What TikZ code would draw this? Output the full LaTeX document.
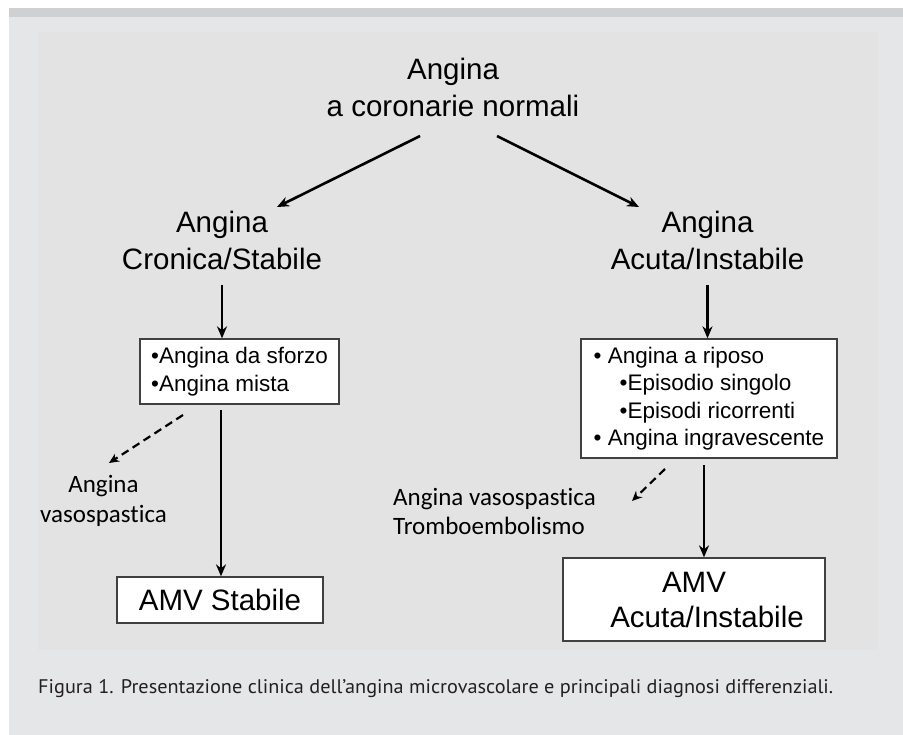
\documentclass[tikz,border=0pt]{standalone}
\usepackage{fontspec}
\setmainfont{Liberation Sans}
\newfontfamily\calfont[Ligatures=NoCommon]{Carlito}
\newfontfamily\capfont{PT Sans}
\usetikzlibrary{arrows.meta}
\definecolor{stripgray}{HTML}{CFD0D2}
\definecolor{outergray}{HTML}{E5E6E8}
\definecolor{innergray}{HTML}{E3E3E3}
\definecolor{boxline}{HTML}{404040}
\definecolor{captext}{HTML}{231F20}
\tikzset{
  bigtext/.style={font=\fontsize{29.5}{37}\selectfont, align=center, inner sep=0pt},
  listbox/.style={draw=boxline, line width=1.3pt, fill=white, align=left, inner sep=0pt,
    font=\fontsize{22.5}{27.5}\selectfont},
  amvbox/.style={draw=boxline, line width=1.3pt, fill=white, align=center, inner sep=0pt,
    font=\fontsize{29.5}{35}\selectfont},
  difflabel/.style={font=\calfont\fontsize{25}{30}\selectfont, inner sep=0pt},
  mainarrow/.style={line width=2.6pt, -{Stealth[length=12pt,width=10pt]}},
  dasharrow/.style={line width=2.2pt, dash pattern=on 8pt off 5pt, -{Stealth[length=10pt,width=9pt]}}
}
\begin{document}
\begin{tikzpicture}[x=1pt,y=-1pt]
\useasboundingbox (0,0) rectangle (903,735);
\fill[white] (0,0) rectangle (903,735);
\fill[outergray] (9,8) rectangle (903,735);
\fill[stripgray] (9,8) rectangle (903,17);
\fill[innergray] (38,32) rectangle (878,650);

% titles (anchor = baseline of last line)
\node[bigtext, anchor=base] (top) at (453,117) {Angina\\a coronarie normali};
\node[bigtext, anchor=base] (hL) at (222,270) {Angina\\Cronica/Stabile};
\node[bigtext, anchor=base] (hR) at (707.5,270) {Angina\\Acuta/Instabile};

% list boxes
\node[listbox, minimum width=199pt, minimum height=65pt] (b1) at (239.5,371.5)
  {\textbullet Angina da sforzo\\\textbullet Angina mista};
\node[listbox, minimum width=256pt, minimum height=119pt] (b2) at (709,398.5)
  {\textbullet\ Angina a riposo\\\hspace*{26pt}\textbullet Episodio singolo\\\hspace*{26pt}\textbullet Episodi ricorrenti\\\textbullet\ Angina ingravescente};

% outcome boxes
\node[amvbox, minimum width=206pt, minimum height=46pt] (a1) at (220,600) {AMV Stabile};
\node[amvbox, minimum width=262pt, minimum height=83pt] (a2) at (694,599.5)
  {AMV\\\hspace*{26pt}Acuta/Instabile};

% differential labels
\node[difflabel, align=center, anchor=base] (l1) at (103.5,522) {Angina\\vasospastica};
\node[difflabel, align=left, anchor=base west, font=\calfont\fontsize{25}{29}\selectfont] (l2) at (393,534) {Angina vasospastica\\Tromboembolismo};

% connector end points
\coordinate (tL) at (420,136);
\coordinate (eL) at (277,207);
\coordinate (tR) at (497,136);
\coordinate (eR) at (639,207);
\coordinate (sL) at (222,285);
\coordinate (sR) at (707.5,285);
\coordinate (vL) at (221,410);
\coordinate (vR) at (704,465);
\coordinate (dL) at (183,415);
\coordinate (eDL) at (109,463);
\coordinate (dR) at (665,469);
\coordinate (eDR) at (632,501);

\draw[mainarrow] (tL) -- (eL);
\draw[mainarrow] (tR) -- (eR);
\draw[mainarrow] (sL) -- (sL |- b1.north);
\draw[mainarrow] (sR) -- (sR |- b2.north);
\draw[mainarrow] (vL) -- (vL |- a1.north);
\draw[mainarrow] (vR) -- (vR |- a2.north);
\draw[dasharrow] (dL) -- (eDL);
\draw[dasharrow] (dR) -- (eDR);

% caption
\node[anchor=base west, inner sep=0pt, text=captext] (cap) at (38,693)
  {\resizebox{795pt}{14pt}{\capfont Figura 1. Presentazione clinica dell’angina microvascolare e principali diagnosi differenziali.}};
\end{tikzpicture}
\end{document}
